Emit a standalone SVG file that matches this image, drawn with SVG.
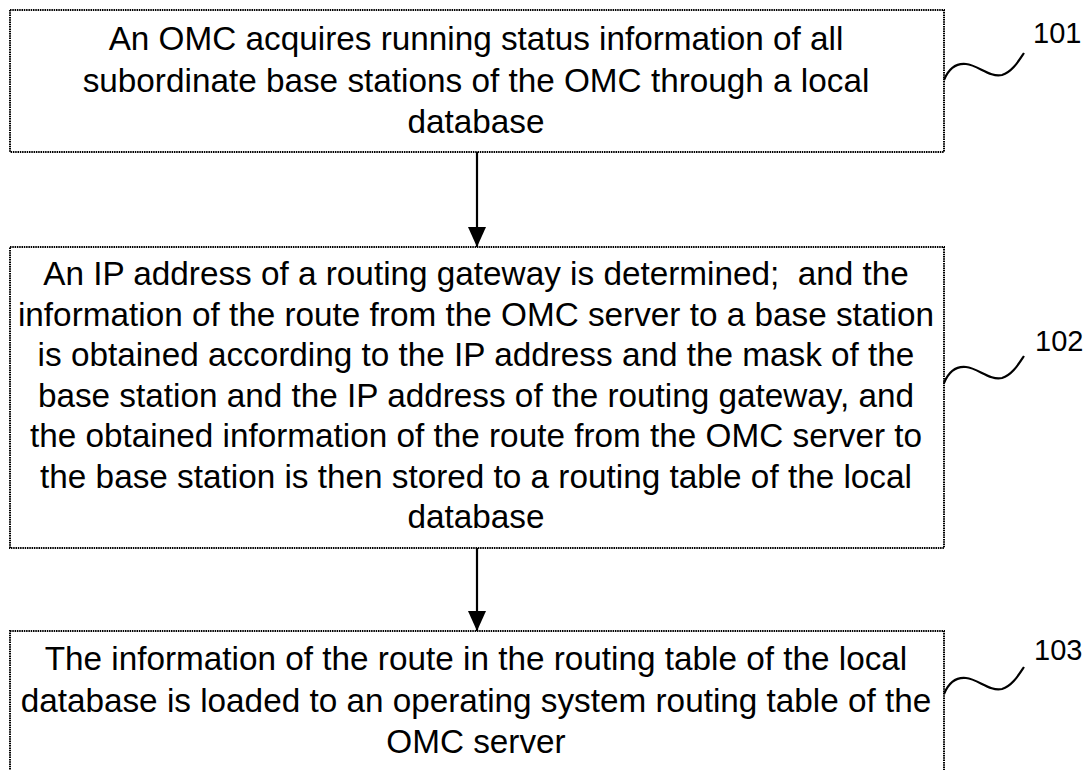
<svg xmlns="http://www.w3.org/2000/svg" width="1089" height="770" viewBox="0 0 1089 770">
<defs>
<style>
.box{fill:#fff;stroke:#000;stroke-width:2;stroke-dasharray:1.5 0.8}
.t{font-family:"Liberation Sans",Arial,sans-serif;font-size:33.3px;fill:#000;text-anchor:middle;white-space:pre}
.lbl{font-family:"Liberation Sans",Arial,sans-serif;font-size:29px;fill:#000}
.sq{fill:none;stroke:#000;stroke-width:2.2}
.conn{stroke:#000;stroke-width:2.2;fill:none}
</style>
<marker id="arr" markerWidth="20" markerHeight="18" refX="20" refY="9" orient="auto" markerUnits="userSpaceOnUse" viewBox="0 0 20 18">
<path d="M0,0 L20,9 L0,18 Z" fill="#000"/>
</marker>
</defs>
<rect width="1089" height="770" fill="#fff"/>
<g id="connectors">
<line class="conn" x1="477" y1="152" x2="477" y2="247" marker-end="url(#arr)"/>
<line class="conn" x1="477" y1="548" x2="477" y2="631" marker-end="url(#arr)"/>
</g>
<g id="n101">
<rect class="box" x="10" y="10" width="934" height="142"/>
<text class="t" x="476" y="50">An OMC acquires running status information of all</text>
<text class="t" x="476" y="91.5">subordinate base stations of the OMC through a local</text>
<text class="t" x="476" y="133">database</text>
<path class="sq" d="M944,80 C949,68 956,63 966,64 C978,65 990,78 1002,75 C1012,72 1018,62 1024,53"/>
<text class="lbl" x="1033" y="43">101</text>
</g>
<g id="n102">
<rect class="box" x="10" y="247" width="934" height="301"/>
<text class="t" x="476" y="285" xml:space="preserve">An IP address of a routing gateway is determined;  and the</text>
<text class="t" x="476" y="325.5">information of the route from the OMC server to a base station</text>
<text class="t" x="476" y="366">is obtained according to the IP address and the mask of the</text>
<text class="t" x="476" y="406.5">base station and the IP address of the routing gateway, and</text>
<text class="t" x="476" y="447">the obtained information of the route from the OMC server to</text>
<text class="t" x="476" y="487.5">the base station is then stored to a routing table of the local</text>
<text class="t" x="476" y="528">database</text>
<path class="sq" d="M944,383 C949,371 956,366 966,367 C978,368 990,381 1002,378 C1012,375 1018,365 1024,356"/>
<text class="lbl" x="1035" y="351">102</text>
</g>
<g id="n103">
<rect class="box" x="10" y="631" width="934" height="145"/>
<text class="t" x="476" y="670">The information of the route in the routing table of the local</text>
<text class="t" x="476" y="711.5">database is loaded to an operating system routing table of the</text>
<text class="t" x="476" y="753">OMC server</text>
<path class="sq" d="M944,694 C949,682 956,677 966,678 C978,679 990,692 1002,689 C1012,686 1018,676 1024,667"/>
<text class="lbl" x="1034" y="660">103</text>
</g>
</svg>
